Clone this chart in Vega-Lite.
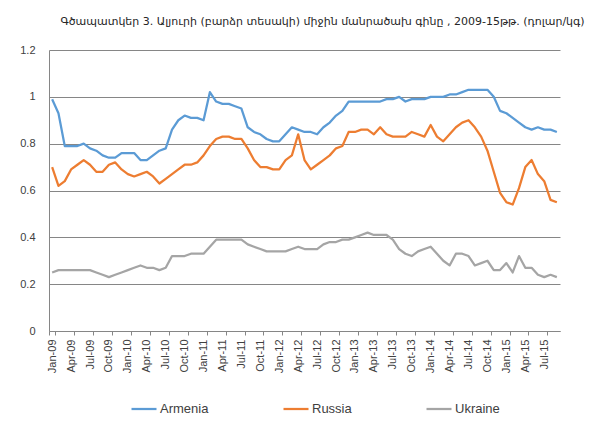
{
  "$schema": "https://vega.github.io/schema/vega-lite/v6.json",
  "width": 511,
  "height": 281,
  "autosize": "none",
  "padding": {"left": 49, "top": 50, "right": 40, "bottom": 100},
  "background": "white",
  "title": {
    "text": "Գծապատկեր 3. Ալյուրի (բարձր տեսակի) միջին մանրածախ գինը , 2009-15թթ.  (դոլար/կգ)",
    "font": "DejaVu Sans",
    "fontSize": 11,
    "fontWeight": "normal",
    "color": "#262626",
    "anchor": "middle",
    "dx": 18,
    "offset": 17
  },
  "data": {
    "values": [
      {"month": "Jan-09", "country": "Armenia", "price": 0.99},
      {"month": "Feb-09", "country": "Armenia", "price": 0.93},
      {"month": "Mar-09", "country": "Armenia", "price": 0.79},
      {"month": "Apr-09", "country": "Armenia", "price": 0.79},
      {"month": "May-09", "country": "Armenia", "price": 0.79},
      {"month": "Jun-09", "country": "Armenia", "price": 0.8},
      {"month": "Jul-09", "country": "Armenia", "price": 0.78},
      {"month": "Aug-09", "country": "Armenia", "price": 0.77},
      {"month": "Sep-09", "country": "Armenia", "price": 0.75},
      {"month": "Oct-09", "country": "Armenia", "price": 0.74},
      {"month": "Nov-09", "country": "Armenia", "price": 0.74},
      {"month": "Dec-09", "country": "Armenia", "price": 0.76},
      {"month": "Jan-10", "country": "Armenia", "price": 0.76},
      {"month": "Feb-10", "country": "Armenia", "price": 0.76},
      {"month": "Mar-10", "country": "Armenia", "price": 0.73},
      {"month": "Apr-10", "country": "Armenia", "price": 0.73},
      {"month": "May-10", "country": "Armenia", "price": 0.75},
      {"month": "Jun-10", "country": "Armenia", "price": 0.77},
      {"month": "Jul-10", "country": "Armenia", "price": 0.78},
      {"month": "Aug-10", "country": "Armenia", "price": 0.86},
      {"month": "Sep-10", "country": "Armenia", "price": 0.9},
      {"month": "Oct-10", "country": "Armenia", "price": 0.92},
      {"month": "Nov-10", "country": "Armenia", "price": 0.91},
      {"month": "Dec-10", "country": "Armenia", "price": 0.91},
      {"month": "Jan-11", "country": "Armenia", "price": 0.9},
      {"month": "Feb-11", "country": "Armenia", "price": 1.02},
      {"month": "Mar-11", "country": "Armenia", "price": 0.98},
      {"month": "Apr-11", "country": "Armenia", "price": 0.97},
      {"month": "May-11", "country": "Armenia", "price": 0.97},
      {"month": "Jun-11", "country": "Armenia", "price": 0.96},
      {"month": "Jul-11", "country": "Armenia", "price": 0.95},
      {"month": "Aug-11", "country": "Armenia", "price": 0.87},
      {"month": "Sep-11", "country": "Armenia", "price": 0.85},
      {"month": "Oct-11", "country": "Armenia", "price": 0.84},
      {"month": "Nov-11", "country": "Armenia", "price": 0.82},
      {"month": "Dec-11", "country": "Armenia", "price": 0.81},
      {"month": "Jan-12", "country": "Armenia", "price": 0.81},
      {"month": "Feb-12", "country": "Armenia", "price": 0.84},
      {"month": "Mar-12", "country": "Armenia", "price": 0.87},
      {"month": "Apr-12", "country": "Armenia", "price": 0.86},
      {"month": "May-12", "country": "Armenia", "price": 0.85},
      {"month": "Jun-12", "country": "Armenia", "price": 0.85},
      {"month": "Jul-12", "country": "Armenia", "price": 0.84},
      {"month": "Aug-12", "country": "Armenia", "price": 0.87},
      {"month": "Sep-12", "country": "Armenia", "price": 0.89},
      {"month": "Oct-12", "country": "Armenia", "price": 0.92},
      {"month": "Nov-12", "country": "Armenia", "price": 0.94},
      {"month": "Dec-12", "country": "Armenia", "price": 0.98},
      {"month": "Jan-13", "country": "Armenia", "price": 0.98},
      {"month": "Feb-13", "country": "Armenia", "price": 0.98},
      {"month": "Mar-13", "country": "Armenia", "price": 0.98},
      {"month": "Apr-13", "country": "Armenia", "price": 0.98},
      {"month": "May-13", "country": "Armenia", "price": 0.98},
      {"month": "Jun-13", "country": "Armenia", "price": 0.99},
      {"month": "Jul-13", "country": "Armenia", "price": 0.99},
      {"month": "Aug-13", "country": "Armenia", "price": 1.0},
      {"month": "Sep-13", "country": "Armenia", "price": 0.98},
      {"month": "Oct-13", "country": "Armenia", "price": 0.99},
      {"month": "Nov-13", "country": "Armenia", "price": 0.99},
      {"month": "Dec-13", "country": "Armenia", "price": 0.99},
      {"month": "Jan-14", "country": "Armenia", "price": 1.0},
      {"month": "Feb-14", "country": "Armenia", "price": 1.0},
      {"month": "Mar-14", "country": "Armenia", "price": 1.0},
      {"month": "Apr-14", "country": "Armenia", "price": 1.01},
      {"month": "May-14", "country": "Armenia", "price": 1.01},
      {"month": "Jun-14", "country": "Armenia", "price": 1.02},
      {"month": "Jul-14", "country": "Armenia", "price": 1.03},
      {"month": "Aug-14", "country": "Armenia", "price": 1.03},
      {"month": "Sep-14", "country": "Armenia", "price": 1.03},
      {"month": "Oct-14", "country": "Armenia", "price": 1.03},
      {"month": "Nov-14", "country": "Armenia", "price": 1.0},
      {"month": "Dec-14", "country": "Armenia", "price": 0.94},
      {"month": "Jan-15", "country": "Armenia", "price": 0.93},
      {"month": "Feb-15", "country": "Armenia", "price": 0.91},
      {"month": "Mar-15", "country": "Armenia", "price": 0.89},
      {"month": "Apr-15", "country": "Armenia", "price": 0.87},
      {"month": "May-15", "country": "Armenia", "price": 0.86},
      {"month": "Jun-15", "country": "Armenia", "price": 0.87},
      {"month": "Jul-15", "country": "Armenia", "price": 0.86},
      {"month": "Aug-15", "country": "Armenia", "price": 0.86},
      {"month": "Sep-15", "country": "Armenia", "price": 0.85},
      {"month": "Jan-09", "country": "Russia", "price": 0.7},
      {"month": "Feb-09", "country": "Russia", "price": 0.62},
      {"month": "Mar-09", "country": "Russia", "price": 0.64},
      {"month": "Apr-09", "country": "Russia", "price": 0.69},
      {"month": "May-09", "country": "Russia", "price": 0.71},
      {"month": "Jun-09", "country": "Russia", "price": 0.73},
      {"month": "Jul-09", "country": "Russia", "price": 0.71},
      {"month": "Aug-09", "country": "Russia", "price": 0.68},
      {"month": "Sep-09", "country": "Russia", "price": 0.68},
      {"month": "Oct-09", "country": "Russia", "price": 0.71},
      {"month": "Nov-09", "country": "Russia", "price": 0.72},
      {"month": "Dec-09", "country": "Russia", "price": 0.69},
      {"month": "Jan-10", "country": "Russia", "price": 0.67},
      {"month": "Feb-10", "country": "Russia", "price": 0.66},
      {"month": "Mar-10", "country": "Russia", "price": 0.67},
      {"month": "Apr-10", "country": "Russia", "price": 0.68},
      {"month": "May-10", "country": "Russia", "price": 0.66},
      {"month": "Jun-10", "country": "Russia", "price": 0.63},
      {"month": "Jul-10", "country": "Russia", "price": 0.65},
      {"month": "Aug-10", "country": "Russia", "price": 0.67},
      {"month": "Sep-10", "country": "Russia", "price": 0.69},
      {"month": "Oct-10", "country": "Russia", "price": 0.71},
      {"month": "Nov-10", "country": "Russia", "price": 0.71},
      {"month": "Dec-10", "country": "Russia", "price": 0.72},
      {"month": "Jan-11", "country": "Russia", "price": 0.75},
      {"month": "Feb-11", "country": "Russia", "price": 0.79},
      {"month": "Mar-11", "country": "Russia", "price": 0.82},
      {"month": "Apr-11", "country": "Russia", "price": 0.83},
      {"month": "May-11", "country": "Russia", "price": 0.83},
      {"month": "Jun-11", "country": "Russia", "price": 0.82},
      {"month": "Jul-11", "country": "Russia", "price": 0.82},
      {"month": "Aug-11", "country": "Russia", "price": 0.78},
      {"month": "Sep-11", "country": "Russia", "price": 0.73},
      {"month": "Oct-11", "country": "Russia", "price": 0.7},
      {"month": "Nov-11", "country": "Russia", "price": 0.7},
      {"month": "Dec-11", "country": "Russia", "price": 0.69},
      {"month": "Jan-12", "country": "Russia", "price": 0.69},
      {"month": "Feb-12", "country": "Russia", "price": 0.73},
      {"month": "Mar-12", "country": "Russia", "price": 0.75},
      {"month": "Apr-12", "country": "Russia", "price": 0.84},
      {"month": "May-12", "country": "Russia", "price": 0.73},
      {"month": "Jun-12", "country": "Russia", "price": 0.69},
      {"month": "Jul-12", "country": "Russia", "price": 0.71},
      {"month": "Aug-12", "country": "Russia", "price": 0.73},
      {"month": "Sep-12", "country": "Russia", "price": 0.75},
      {"month": "Oct-12", "country": "Russia", "price": 0.78},
      {"month": "Nov-12", "country": "Russia", "price": 0.79},
      {"month": "Dec-12", "country": "Russia", "price": 0.85},
      {"month": "Jan-13", "country": "Russia", "price": 0.85},
      {"month": "Feb-13", "country": "Russia", "price": 0.86},
      {"month": "Mar-13", "country": "Russia", "price": 0.86},
      {"month": "Apr-13", "country": "Russia", "price": 0.84},
      {"month": "May-13", "country": "Russia", "price": 0.87},
      {"month": "Jun-13", "country": "Russia", "price": 0.84},
      {"month": "Jul-13", "country": "Russia", "price": 0.83},
      {"month": "Aug-13", "country": "Russia", "price": 0.83},
      {"month": "Sep-13", "country": "Russia", "price": 0.83},
      {"month": "Oct-13", "country": "Russia", "price": 0.85},
      {"month": "Nov-13", "country": "Russia", "price": 0.84},
      {"month": "Dec-13", "country": "Russia", "price": 0.83},
      {"month": "Jan-14", "country": "Russia", "price": 0.88},
      {"month": "Feb-14", "country": "Russia", "price": 0.83},
      {"month": "Mar-14", "country": "Russia", "price": 0.81},
      {"month": "Apr-14", "country": "Russia", "price": 0.84},
      {"month": "May-14", "country": "Russia", "price": 0.87},
      {"month": "Jun-14", "country": "Russia", "price": 0.89},
      {"month": "Jul-14", "country": "Russia", "price": 0.9},
      {"month": "Aug-14", "country": "Russia", "price": 0.87},
      {"month": "Sep-14", "country": "Russia", "price": 0.83},
      {"month": "Oct-14", "country": "Russia", "price": 0.77},
      {"month": "Nov-14", "country": "Russia", "price": 0.68},
      {"month": "Dec-14", "country": "Russia", "price": 0.59},
      {"month": "Jan-15", "country": "Russia", "price": 0.55},
      {"month": "Feb-15", "country": "Russia", "price": 0.54},
      {"month": "Mar-15", "country": "Russia", "price": 0.61},
      {"month": "Apr-15", "country": "Russia", "price": 0.7},
      {"month": "May-15", "country": "Russia", "price": 0.73},
      {"month": "Jun-15", "country": "Russia", "price": 0.67},
      {"month": "Jul-15", "country": "Russia", "price": 0.64},
      {"month": "Aug-15", "country": "Russia", "price": 0.56},
      {"month": "Sep-15", "country": "Russia", "price": 0.55},
      {"month": "Jan-09", "country": "Ukraine", "price": 0.25},
      {"month": "Feb-09", "country": "Ukraine", "price": 0.26},
      {"month": "Mar-09", "country": "Ukraine", "price": 0.26},
      {"month": "Apr-09", "country": "Ukraine", "price": 0.26},
      {"month": "May-09", "country": "Ukraine", "price": 0.26},
      {"month": "Jun-09", "country": "Ukraine", "price": 0.26},
      {"month": "Jul-09", "country": "Ukraine", "price": 0.26},
      {"month": "Aug-09", "country": "Ukraine", "price": 0.25},
      {"month": "Sep-09", "country": "Ukraine", "price": 0.24},
      {"month": "Oct-09", "country": "Ukraine", "price": 0.23},
      {"month": "Nov-09", "country": "Ukraine", "price": 0.24},
      {"month": "Dec-09", "country": "Ukraine", "price": 0.25},
      {"month": "Jan-10", "country": "Ukraine", "price": 0.26},
      {"month": "Feb-10", "country": "Ukraine", "price": 0.27},
      {"month": "Mar-10", "country": "Ukraine", "price": 0.28},
      {"month": "Apr-10", "country": "Ukraine", "price": 0.27},
      {"month": "May-10", "country": "Ukraine", "price": 0.27},
      {"month": "Jun-10", "country": "Ukraine", "price": 0.26},
      {"month": "Jul-10", "country": "Ukraine", "price": 0.27},
      {"month": "Aug-10", "country": "Ukraine", "price": 0.32},
      {"month": "Sep-10", "country": "Ukraine", "price": 0.32},
      {"month": "Oct-10", "country": "Ukraine", "price": 0.32},
      {"month": "Nov-10", "country": "Ukraine", "price": 0.33},
      {"month": "Dec-10", "country": "Ukraine", "price": 0.33},
      {"month": "Jan-11", "country": "Ukraine", "price": 0.33},
      {"month": "Feb-11", "country": "Ukraine", "price": 0.36},
      {"month": "Mar-11", "country": "Ukraine", "price": 0.39},
      {"month": "Apr-11", "country": "Ukraine", "price": 0.39},
      {"month": "May-11", "country": "Ukraine", "price": 0.39},
      {"month": "Jun-11", "country": "Ukraine", "price": 0.39},
      {"month": "Jul-11", "country": "Ukraine", "price": 0.39},
      {"month": "Aug-11", "country": "Ukraine", "price": 0.37},
      {"month": "Sep-11", "country": "Ukraine", "price": 0.36},
      {"month": "Oct-11", "country": "Ukraine", "price": 0.35},
      {"month": "Nov-11", "country": "Ukraine", "price": 0.34},
      {"month": "Dec-11", "country": "Ukraine", "price": 0.34},
      {"month": "Jan-12", "country": "Ukraine", "price": 0.34},
      {"month": "Feb-12", "country": "Ukraine", "price": 0.34},
      {"month": "Mar-12", "country": "Ukraine", "price": 0.35},
      {"month": "Apr-12", "country": "Ukraine", "price": 0.36},
      {"month": "May-12", "country": "Ukraine", "price": 0.35},
      {"month": "Jun-12", "country": "Ukraine", "price": 0.35},
      {"month": "Jul-12", "country": "Ukraine", "price": 0.35},
      {"month": "Aug-12", "country": "Ukraine", "price": 0.37},
      {"month": "Sep-12", "country": "Ukraine", "price": 0.38},
      {"month": "Oct-12", "country": "Ukraine", "price": 0.38},
      {"month": "Nov-12", "country": "Ukraine", "price": 0.39},
      {"month": "Dec-12", "country": "Ukraine", "price": 0.39},
      {"month": "Jan-13", "country": "Ukraine", "price": 0.4},
      {"month": "Feb-13", "country": "Ukraine", "price": 0.41},
      {"month": "Mar-13", "country": "Ukraine", "price": 0.42},
      {"month": "Apr-13", "country": "Ukraine", "price": 0.41},
      {"month": "May-13", "country": "Ukraine", "price": 0.41},
      {"month": "Jun-13", "country": "Ukraine", "price": 0.41},
      {"month": "Jul-13", "country": "Ukraine", "price": 0.39},
      {"month": "Aug-13", "country": "Ukraine", "price": 0.35},
      {"month": "Sep-13", "country": "Ukraine", "price": 0.33},
      {"month": "Oct-13", "country": "Ukraine", "price": 0.32},
      {"month": "Nov-13", "country": "Ukraine", "price": 0.34},
      {"month": "Dec-13", "country": "Ukraine", "price": 0.35},
      {"month": "Jan-14", "country": "Ukraine", "price": 0.36},
      {"month": "Feb-14", "country": "Ukraine", "price": 0.33},
      {"month": "Mar-14", "country": "Ukraine", "price": 0.3},
      {"month": "Apr-14", "country": "Ukraine", "price": 0.28},
      {"month": "May-14", "country": "Ukraine", "price": 0.33},
      {"month": "Jun-14", "country": "Ukraine", "price": 0.33},
      {"month": "Jul-14", "country": "Ukraine", "price": 0.32},
      {"month": "Aug-14", "country": "Ukraine", "price": 0.28},
      {"month": "Sep-14", "country": "Ukraine", "price": 0.29},
      {"month": "Oct-14", "country": "Ukraine", "price": 0.3},
      {"month": "Nov-14", "country": "Ukraine", "price": 0.26},
      {"month": "Dec-14", "country": "Ukraine", "price": 0.26},
      {"month": "Jan-15", "country": "Ukraine", "price": 0.29},
      {"month": "Feb-15", "country": "Ukraine", "price": 0.25},
      {"month": "Mar-15", "country": "Ukraine", "price": 0.32},
      {"month": "Apr-15", "country": "Ukraine", "price": 0.27},
      {"month": "May-15", "country": "Ukraine", "price": 0.27},
      {"month": "Jun-15", "country": "Ukraine", "price": 0.24},
      {"month": "Jul-15", "country": "Ukraine", "price": 0.23},
      {"month": "Aug-15", "country": "Ukraine", "price": 0.24},
      {"month": "Sep-15", "country": "Ukraine", "price": 0.23}
    ]
  },
  "mark": {"type": "line", "strokeWidth": 2.25, "strokeJoin": "round"},
  "encoding": {
    "x": {
      "field": "month",
      "type": "ordinal",
      "sort": null,
      "scale": {"type": "band", "paddingInner": 0, "paddingOuter": 0},
      "axis": {
        "title": null,
        "values": ["Jan-09", "Apr-09", "Jul-09", "Oct-09", "Jan-10", "Apr-10", "Jul-10", "Oct-10", "Jan-11", "Apr-11", "Jul-11", "Oct-11", "Jan-12", "Apr-12", "Jul-12", "Oct-12", "Jan-13", "Apr-13", "Jul-13", "Oct-13", "Jan-14", "Apr-14", "Jul-14", "Oct-14", "Jan-15", "Apr-15", "Jul-15"],
        "labelAngle": -90,
        "labelFont": "Liberation Sans",
        "labelFontSize": 11,
        "labelColor": "#404040",
        "labelPadding": 4,
        "tickBand": "extent",
        "tickSize": 4,
        "tickColor": "#868686",
        "domainColor": "#868686",
        "grid": false
      }
    },
    "y": {
      "field": "price",
      "type": "quantitative",
      "scale": {"domain": [0, 1.2], "nice": false},
      "axis": {
        "title": null,
        "values": [0, 0.2, 0.4, 0.6, 0.8, 1, 1.2],
        "format": "~g",
        "labelFont": "Liberation Sans",
        "labelFontSize": 11,
        "labelColor": "#404040",
        "labelPadding": 14,
        "ticks": false,
        "domainColor": "#868686",
        "grid": true,
        "gridColor": "#868686"
      }
    },
    "color": {
      "field": "country",
      "type": "nominal",
      "scale": {
        "domain": ["Armenia", "Russia", "Ukraine"],
        "range": ["#5B9BD5", "#ED7D31", "#A5A5A5"]
      },
      "legend": {
        "title": null,
        "orient": "none",
        "direction": "horizontal",
        "legendX": 81,
        "legendY": 345,
        "symbolType": "stroke",
        "symbolSize": 625,
        "symbolStrokeWidth": 2.25,
        "labelOffset": 2,
        "columnPadding": 70,
        "labelFont": "Liberation Sans",
        "labelFontSize": 13,
        "labelColor": "#404040"
      }
    }
  },
  "config": {"view": {"stroke": null}}
}
